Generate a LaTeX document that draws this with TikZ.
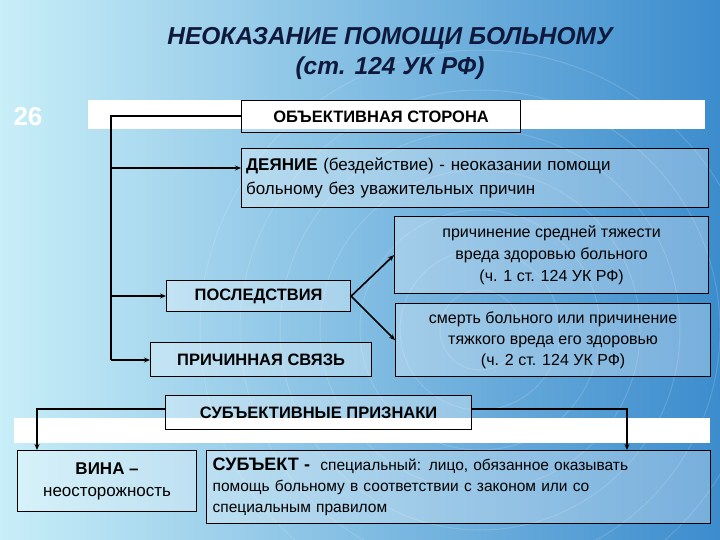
\documentclass[tikz,border=0pt]{standalone}
\usepackage{fontspec}
\setmainfont{Liberation Sans}
\usetikzlibrary{arrows.meta,shadows}
\begin{document}
\begin{tikzpicture}[x=1pt,y=-1pt,
 bx/.style={draw=black,line width=1.2pt,fill=white,fill opacity=0.3,text opacity=1,inner sep=0pt,minimum width=#1,anchor=north west},
 bx/.default=10pt,
 ln/.style={line width=1.6pt},
 ar/.style={line width=1.6pt,-{Stealth[length=6pt,width=5pt]}},
 tx/.style={font=\fontsize{17}{20}\selectfont,text=black},
 hb/.style={font=\bfseries\fontsize{16.5}{20}\selectfont}]
\useasboundingbox (0,0) rectangle (720,540);
\begin{scope}
\clip (0,0) rectangle (720,540);
\shade[left color={rgb,255:red,200;green,238;blue,248},right color={rgb,255:red,60;green,140;blue,205}] (0,0) rectangle (720,540);
\foreach \r in {40,80,...,280}{\draw[white,opacity=0.15,line width=1pt] (480,330) circle (\r);}
\end{scope}
\node[text={rgb,255:red,15;green,25;blue,60},font=\bfseries\itshape\fontsize{24.5}{30}\selectfont,align=center] (title) at (390,53) {НЕОКАЗАНИЕ ПОМОЩИ БОЛЬНОМУ\\(ст. 124 УК РФ)};
\node[white,font=\bfseries\fontsize{26}{26}\selectfont] (num) at (28,117) {26};
\fill[white] (88,100) rectangle (705,129);
\fill[white] (14,418) rectangle (710,443);
\node[bx,minimum width=279pt,minimum height=32pt,tx,hb] (obj) at (241,100) {ОБЪЕКТИВНАЯ СТОРОНА};
\node[bx,minimum width=467pt,minimum height=59pt,tx,align=left,text width=460pt,font=\fontsize{17}{24}\selectfont] (dey) at (241,148) {\hspace*{1pt}\textbf{ДЕЯНИЕ} (бездействие) - неоказании помощи\\\hspace*{1pt}больному без уважительных причин};
\node[bx,minimum width=314pt,minimum height=77pt,tx,align=center,font=\fontsize{16}{22}\selectfont] (c1) at (394,216) {причинение средней тяжести\\вреда здоровью больного\\(ч. 1 ст. 124 УК РФ)};
\node[bx,minimum width=315pt,minimum height=73pt,tx,align=center,font=\fontsize{16}{21}\selectfont] (c2) at (395,303) {смерть больного или причинение\\тяжкого вреда его здоровью\\(ч. 2 ст. 124 УК РФ)};
\node[bx,minimum width=184pt,minimum height=31pt,tx,hb] (pos) at (166,280) {ПОСЛЕДСТВИЯ};
\node[bx,minimum width=221pt,minimum height=34pt,tx,hb] (prc) at (150,342) {ПРИЧИННАЯ СВЯЗЬ};
\node[bx,minimum width=306pt,minimum height=34pt,tx,hb] (sub) at (165,395) {СУБЪЕКТИВНЫЕ ПРИЗНАКИ};
\node[bx,minimum width=179pt,minimum height=61pt,tx,align=center,font=\fontsize{17}{22}\selectfont] (vin) at (17,450) {\textbf{ВИНА –}\\неосторожность};
\node[bx,minimum width=504pt,minimum height=73pt,tx,align=left,text width=500pt,font=\fontsize{15.5}{21}\selectfont] (sbj) at (206,450) {\hspace*{4pt}\textbf{\fontsize{18}{21}\selectfont СУБЪЕКТ -} \ специальный: лицо, обязанное оказывать\\\hspace*{4pt}помощь больному в соответствии с законом или со\\\hspace*{4pt}специальным правилом};
\coordinate (top) at (111,116);
\draw[ln] (obj.west |- top) -- (top) -- (111,360);
\draw[ar] (111,168) -- (dey.west |- 0,168);
\draw[ar] (111,296) -- (pos.west |- 0,296);
\draw[ar] (111,360) -- (prc.west |- 0,360);
\draw[ar] (pos.east) -- (c1.west);
\draw[ar] (pos.east) -- (c2.west);
\draw[ar] (sub.west |- 0,409) -| (37,450);
\draw[ar] (sub.east |- 0,409) -| (627,450);
\end{tikzpicture}
\end{document}
